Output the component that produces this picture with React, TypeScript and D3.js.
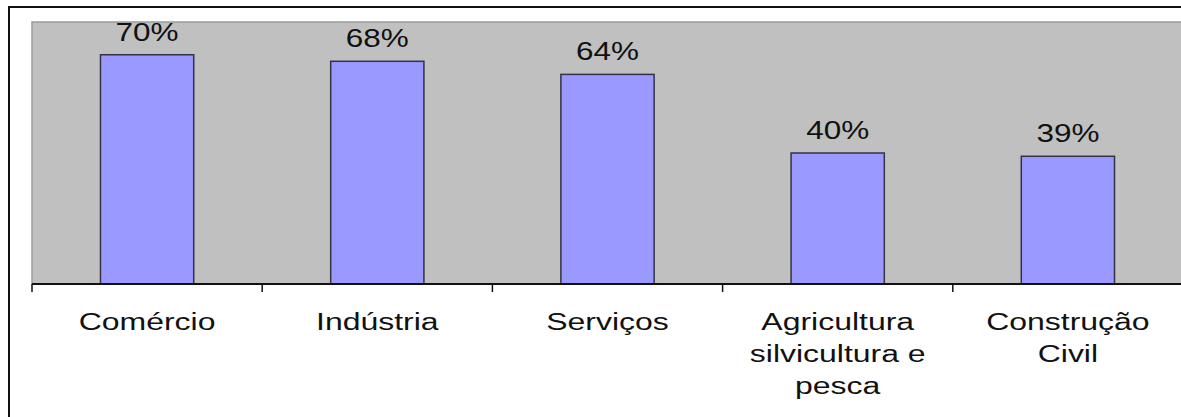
import React from "react";
import * as d3 from "d3";

const categories: string[][] = [
  ["Comércio"],
  ["Indústria"],
  ["Serviços"],
  ["Agricultura", "silvicultura e", "pesca"],
  ["Construção", "Civil"],
];
const values: number[] = [70, 68, 64, 40, 39];
const valueLabels: string[] = ["70%", "68%", "64%", "40%", "39%"];

export default function App() {
  const W = 1181;
  const H = 417;
  const left = 32;
  const right = 1183;
  const top = 22;
  const bottom = 284;
  const keys = categories.map((_, i) => String(i));
  const x = d3
    .scaleBand<string>()
    .domain(keys)
    .range([left, right])
    .paddingInner(0.595)
    .paddingOuter(0.2975);
  const y = d3.scaleLinear().domain([0, 80]).range([bottom, top]);
  const step = x.step();
  const font = "'Liberation Sans', Arial, sans-serif";
  return (
    <svg
      width={W}
      height={H}
      style={{ position: "absolute", left: 0, top: 0, background: "#fff" }}
    >
      <rect x={0} y={0} width={W} height={H} fill="#fff" />
      <rect
        x={9}
        y={7}
        width={W + 20}
        height={H + 20}
        fill="#fff"
        stroke="#111"
        strokeWidth={2}
      />
      <rect
        x={left}
        y={top}
        width={right - left + 10}
        height={bottom - top}
        fill="#c0c0c0"
        stroke="#9a9a9a"
        strokeWidth={1.5}
      />
      {values.map((v, i) => (
        <rect
          key={"b" + i}
          x={x(String(i))!}
          y={y(v)}
          width={x.bandwidth()}
          height={bottom - y(v)}
          fill="#9999ff"
          stroke="#333344"
          strokeWidth={1.5}
        />
      ))}
      <line x1={left} x2={W} y1={bottom} y2={bottom} stroke="#111" strokeWidth={2} />
      {d3.range(0, 6).map((i) => (
        <line
          key={"t" + i}
          x1={left + i * step}
          x2={left + i * step}
          y1={bottom}
          y2={bottom + 8}
          stroke="#111"
          strokeWidth={1.5}
        />
      ))}
      {values.map((v, i) => {
        const cx = x(String(i))! + x.bandwidth() / 2;
        return (
          <text
            key={"v" + i}
            transform={`translate(${cx},${y(v) - 14}) scale(1.26,1)`}
            textAnchor="middle"
            fontFamily={font}
            fontSize={25}
            fill="#111"
          >
            {valueLabels[i]}
          </text>
        );
      })}
      {categories.map((lines, i) => {
        const cx = x(String(i))! + x.bandwidth() / 2;
        return lines.map((ln, j) => (
          <text
            key={"c" + i + "-" + j}
            transform={`translate(${cx},${330 + j * 32}) scale(1.39,1)`}
            textAnchor="middle"
            fontFamily={font}
            fontSize={23}
            fill="#111"
          >
            {ln}
          </text>
        ));
      })}
    </svg>
  );
}
